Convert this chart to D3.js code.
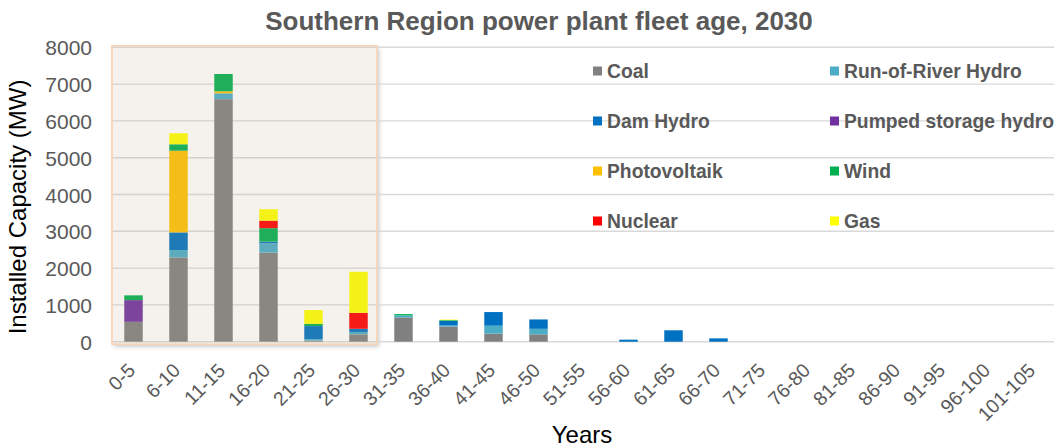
<!DOCTYPE html>
<html>
<head>
<meta charset="utf-8">
<script src="https://cdn.jsdelivr.net/npm/d3@7"></script>
<style>
  html, body { margin: 0; padding: 0; background: #fff; }
  svg { display: block; font-family: "Liberation Sans", Arial, sans-serif; }
</style>
</head>
<body>
<svg id="chart" width="1060" height="448"></svg>
<script>
const categories = ["0-5","6-10","11-15","16-20","21-25","26-30","31-35","36-40","41-45","46-50","51-55","56-60","61-65","66-70","71-75","76-80","81-85","86-90","91-95","96-100","101-105"];
const coal    = [540, 2290, 6590, 2420,  30,  200, 660, 410, 220, 200, 0,  0,   0,  0, 0,0,0,0,0,0,0];
const ror     = [  0,  200,  160,  255,  40,   65,  55,  30, 215, 150, 0,  0,   0,  0, 0,0,0,0,0,0,0];
const dam     = [  0,  480,    0,   45, 355,   85,   0, 125, 370, 255, 0, 55, 310, 90, 0,0,0,0,0,0,0];
const pumped  = [590,    0,    0,    0,   0,    0,   0,   0,   0,   0, 0,  0,   0,  0, 0,0,0,0,0,0,0];
const pv      = [  0, 2220,   55,    0,   0,    0,   0,   0,   0,   0, 0,  0,   0,  0, 0,0,0,0,0,0,0];
const wind    = [130,  175,  470,  365,  60,    0,  35,  20,   0,   0, 0,  0,   0,  0, 0,0,0,0,0,0,0];
const nuclear = [  0,    0,    0,  205,   0,  435,   0,   0,   0,   0, 0,  0,   0,  0, 0,0,0,0,0,0,0];
const gas     = [  0,  300,    0,  310, 375, 1115,   0,  15,   0,   0, 0,  0,   0,  0, 0,0,0,0,0,0,0];
const yTicks  = [0, 1000, 2000, 3000, 4000, 5000, 6000, 7000, 8000];

const seriesNames  = ["Coal","Run-of-River Hydro","Dam Hydro","Pumped storage hydro","Photovoltaik","Wind","Nuclear","Gas"];
const seriesValues = [coal, ror, dam, pumped, pv, wind, nuclear, gas];
const seriesColors = ["#808080","#4bacc6","#0070c0","#7030a0","#ffc000","#00b050","#ff0000","#ffff00"];

(function () {
const svg = d3.select("#chart");
const pLeft = 111, pRight = 1056, pTop = 47.3, pBottom = 341.7;

const x = d3.scaleBand().domain(categories).range([pLeft, pRight]).paddingInner(0.59).paddingOuter(0.295);
const y = d3.scaleLinear().domain([0, 8000]).range([pBottom, pTop]);

const table = categories.map((c, i) => {
  const row = { cat: c };
  seriesNames.forEach((s, k) => row[s] = seriesValues[k][i]);
  return row;
});
const stacked = d3.stack().keys(seriesNames)(table);

// defs
const defs = svg.append("defs");
const f = defs.append("filter").attr("id","shadow").attr("x","-10%").attr("y","-10%").attr("width","130%").attr("height","130%");
f.append("feDropShadow").attr("dx",2).attr("dy",2.5).attr("stdDeviation",2.2).attr("flood-color","#000").attr("flood-opacity",0.22);

// highlight box geometry (first six categories)
const hx0 = x(categories[0]) - x.step() * x.paddingOuter() + 1;
const hx1 = x(categories[5]) + x.bandwidth() + x.step() * x.paddingInner() / 2 - 4;
const hy0 = y(8000) - 1.5, hy1 = y(0) + 2.5;

svg.append("rect").attr("x", hx0).attr("y", hy0).attr("width", hx1 - hx0).attr("height", hy1 - hy0)
  .attr("fill", "#fff").attr("filter", "url(#shadow)");

// gridlines
svg.append("g").selectAll("line").data(yTicks).join("line")
  .attr("x1", pLeft).attr("x2", pRight - 2)
  .attr("y1", d => y(d)).attr("y2", d => y(d))
  .attr("stroke", "#d9d9d9").attr("stroke-width", 1.4);

// bars
svg.append("g").selectAll("g").data(stacked).join("g")
  .attr("fill", (d, i) => seriesColors[i])
  .selectAll("rect").data(d => d).join("rect")
  .attr("x", d => x(d.data.cat))
  .attr("width", x.bandwidth())
  .attr("y", d => y(d[1]))
  .attr("height", d => Math.max(0, y(d[0]) - y(d[1])));

// overlay tint
svg.append("rect").attr("x", hx0).attr("y", hy0).attr("width", hx1 - hx0).attr("height", hy1 - hy0)
  .attr("fill", "rgb(192,173,141)").attr("fill-opacity", 0.16)
  .attr("stroke", "#f9d3b4").attr("stroke-width", 1.6);

// y axis
const yAxis = d3.axisLeft(y).tickValues(yTicks).tickSize(0).tickPadding(0).tickFormat(d3.format("d"));
const ya = svg.append("g").attr("transform", `translate(92,0)`).call(yAxis);
ya.select(".domain").remove();
ya.selectAll("text").attr("fill", "#595959").style("font-size", "21px").attr("dy", "0.36em");

// x axis
const xAxis = d3.axisBottom(x).tickSize(0).tickPadding(0);
const xa = svg.append("g").attr("transform", `translate(0,${pBottom})`).call(xAxis);
xa.select(".domain").remove();
xa.selectAll("text")
  .attr("fill", "#595959").style("font-size", "19.5px")
  .attr("text-anchor", "end").attr("dy", null).attr("y", null)
  .attr("transform", `translate(3, 30) rotate(-45)`);

// title
svg.append("text").attr("x", 539).attr("y", 30).attr("text-anchor", "middle")
  .attr("fill", "#595959").style("font-size", "26px").style("font-weight", "bold")
  .text("Southern Region power plant fleet age, 2030");

// axis titles
svg.append("text").attr("transform", "translate(26,207) rotate(-90)").attr("text-anchor", "middle")
  .attr("fill", "#000").style("font-size", "24px").text("Installed Capacity (MW)");
svg.append("text").attr("x", 582).attr("y", 443).attr("text-anchor", "middle")
  .attr("fill", "#000").style("font-size", "24px").text("Years");

// legend
const legendX = [593, 830], legendY = [71, 121, 171, 221];
const lg = svg.append("g").selectAll("g").data(seriesNames).join("g")
  .attr("transform", (d, i) => `translate(${legendX[i % 2]},${legendY[Math.floor(i / 2)]})`);
lg.append("rect").attr("x", 0).attr("y", -4.5).attr("width", 9).attr("height", 9)
  .attr("fill", (d, i) => seriesColors[i]);
lg.append("text").attr("x", 14).attr("y", 0).attr("dy", "0.36em")
  .attr("fill", "#595959").style("font-size", "19.3px").style("font-weight", "bold")
  .text(d => d);
})();
</script>
</body>
</html>
